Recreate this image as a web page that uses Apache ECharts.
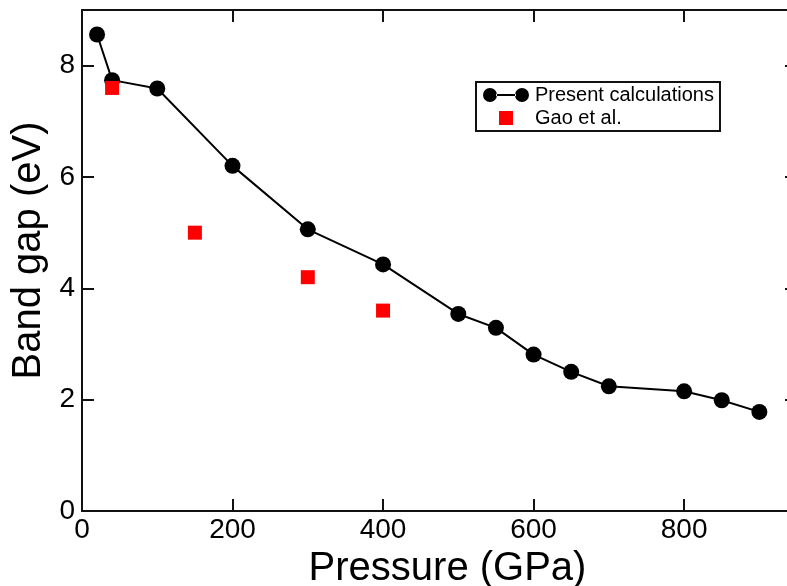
<!DOCTYPE html>
<html><head><meta charset="utf-8">
<script src="https://cdn.jsdelivr.net/npm/echarts@6/dist/echarts.min.js"></script>
<style>html,body{margin:0;padding:0;background:#fff}#c{width:787px;height:586px}</style>
</head><body><div id="c"></div>
<script>
var presentX = [20, 40, 100, 200, 300, 400, 500, 550, 600, 650, 700, 800, 850, 900];
var presentY = [8.56, 7.74, 7.59, 6.2, 5.06, 4.43, 3.54, 3.29, 2.81, 2.5, 2.24, 2.15, 1.99, 1.78];
var gaoX = [40, 150, 300, 400];
var gaoY = [7.6, 5.0, 4.2, 3.6];
var xTicks = [0, 200, 400, 600, 800];
var yTicks = [0, 2, 4, 6, 8];

var chart = echarts.init(document.getElementById('c'), null, {renderer: 'canvas'});
var font = '"Liberation Sans", Arial, sans-serif';
var axisLine = {show: true, onZero: false, lineStyle: {color: '#111', width: 2}};
var tick = {show: true, inside: true, length: 12, lineStyle: {color: '#111', width: 2}};
function pairs(xs, ys) { return xs.map(function (x, i) { return [x, ys[i]]; }); }
var presentIcon = 'path://M0,7a7,7 0 1,0 14,0a7,7 0 1,0 -14,0zM32,7a7,7 0 1,0 14,0a7,7 0 1,0 -14,0zM13,6h20v2h-20z';
var gaoIcon = 'path://M0,0l0.01,0l0,0.01zM46,14l-0.01,0l0,-0.01zM16,0h14v14h-14z';
chart.setOption({
  animation: false,
  backgroundColor: '#fff',
  grid: {left: 82, top: 10, width: 715, height: 501, containLabel: false, outerBoundsMode: 'none'},
  xAxis: [{
    type: 'value', min: 0, max: 950, interval: 200, position: 'bottom',
    name: 'Pressure (GPa)', nameLocation: 'middle', nameGap: 33,
    nameTextStyle: {fontFamily: font, fontSize: 40, color: '#000', padding: [0, 0, 0, 16]},
    axisLine: axisLine, axisTick: tick, splitLine: {show: false},
    axisLabel: {fontFamily: font, fontSize: 28, color: '#000', margin: 5, showMaxLabel: false,
      formatter: function (v) { return xTicks.indexOf(v) >= 0 ? String(v) : ''; }}
  }, {
    type: 'value', min: 0, max: 950, interval: 200, position: 'top',
    axisLine: axisLine, axisTick: tick, axisLabel: {show: false}, splitLine: {show: false}
  }],
  yAxis: [{
    type: 'value', min: 0, max: 9, interval: 2, position: 'left',
    name: 'Band gap (eV)', nameLocation: 'middle', nameGap: 33,
    nameTextStyle: {fontFamily: font, fontSize: 40, color: '#000', padding: [0, 0, 0, 20]},
    axisLine: axisLine, axisTick: tick, splitLine: {show: false},
    axisLabel: {fontFamily: font, fontSize: 28, color: '#000', margin: 7, showMaxLabel: false,
      formatter: function (v) { return yTicks.indexOf(v) >= 0 ? String(v) : ''; }}
  }, {
    type: 'value', min: 0, max: 9, interval: 2, position: 'right',
    axisLine: axisLine, axisTick: tick, axisLabel: {show: false}, splitLine: {show: false}
  }],
  legend: {
    left: 476, top: 82, orient: 'vertical', itemGap: 3,
    padding: [3, 6, 3, 7], borderColor: '#111', borderWidth: 2, borderRadius: 0,
    itemWidth: 46, itemHeight: 14,
    textStyle: {fontFamily: font, fontSize: 20, color: '#000', padding: [0, 0, 0, 1]},
    data: [{name: 'Present calculations', icon: presentIcon},
           {name: 'Gao et al.', icon: gaoIcon}]
  },
  series: [{
    name: 'Present calculations', type: 'line', data: pairs(presentX, presentY),
    symbol: 'circle', symbolSize: 16, lineStyle: {color: '#000', width: 2},
    itemStyle: {color: '#000', opacity: 1}, z: 3
  }, {
    name: 'Gao et al.', type: 'scatter', data: pairs(gaoX, gaoY),
    symbol: 'rect', symbolSize: 14, itemStyle: {color: '#ff0000', opacity: 1}, z: 4
  }]
});
</script></body></html>
